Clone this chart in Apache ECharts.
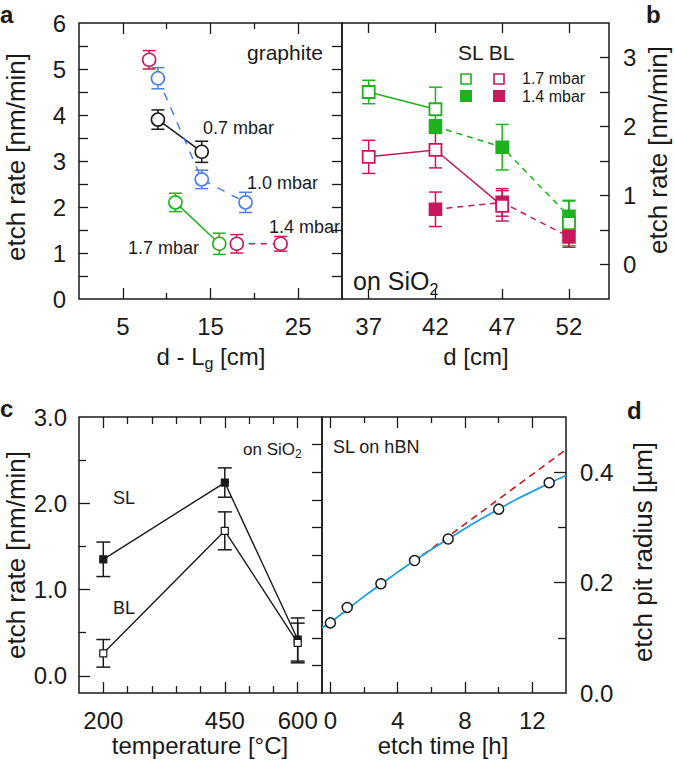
<!DOCTYPE html>
<html><head><meta charset="utf-8">
<script src="https://cdn.jsdelivr.net/npm/echarts@6/dist/echarts.min.js"></script>
<style>html,body{margin:0;padding:0;background:#fff}#c{width:675px;height:765px}</style>
</head><body><div id="c"></div>
<script>
// ---------- Panel a (graphite) ----------
const aXLabels = [5, 15, 25];
const aXMajorTicks = [5, 15, 25];
const aXMinorTicks = [10, 20];
const aYLabels = [0, 1, 2, 3, 4, 5, 6];
const aYTicks = [0.5, 1, 1.5, 2, 2.5, 3, 3.5, 4, 4.5, 5, 5.5];
const a07X = [9, 14],     a07Y = [3.9, 3.2],      a07E = [0.21, 0.23];
const a10X = [9, 14, 19], a10Y = [4.8, 2.6, 2.1], a10E = [0.23, 0.2, 0.22];
const a14X = [8, 18, 23], a14Y = [5.2, 1.2, 1.2], a14E = [0.2, 0.2, 0.16];
const a17X = [11, 16],    a17Y = [2.1, 1.2],      a17E = [0.2, 0.23];

// ---------- Panel b (on SiO2, vs d) ----------
const bXLabels = [37, 42, 47, 52];
const bYLabels = [0, 1, 2, 3];
const bYTicks = [0, 0.5, 1, 1.5, 2, 2.5, 3];
const bSL17X = [37, 42, 52], bSL17Y = [2.5, 2.25, 0.6],  bSL17E = [0.17, 0.32, 0.33];
const bSL14X = [42, 47, 52], bSL14Y = [2.0, 1.7, 0.7],   bSL14E = [0.1, 0.33, 0.22];
const bBL17X = [37, 42, 47], bBL17Y = [1.56, 1.66, 0.85], bBL17E = [0.24, 0.26, 0.22];
const bBL14X = [42, 47, 52], bBL14Y = [0.8, 0.9, 0.4],   bBL14E = [0.25, 0.2, 0.15];

// ---------- Panel c (temperature) ----------
const cXLabels = [200, 450, 600];
const cXMajorTicks = [200, 450, 600];
const cXMinorTicks = [250, 300, 350, 400, 500, 550];
const cYLabels = [0, 1, 2, 3];
const cYMajorTicks = [0, 1, 2];
const cYMinorTicks = [0.5, 1.5, 2.5];
const cTemp = [200, 450, 600];
const cSL = [1.35, 2.24, 0.42], cSLErr = [0.2, 0.17, 0.25];
const cBL = [0.26, 1.68, 0.38], cBLErr = [0.16, 0.22, 0.23];

// ---------- Panel d (etch pit radius) ----------
const dXLabels = [0, 4, 8, 12];
const dXMajorTicks = [0, 4, 8, 12];
const dXMinorTicks = [2, 6, 10];
const dYLabels = [0, 0.2, 0.4];
const dYMajorTicks = [0.2, 0.4];
const dYMinorTicks = [0.1, 0.3];
const dYLeftTicks = [0.05, 0.1, 0.15, 0.2, 0.25, 0.3, 0.35, 0.4, 0.45];
const dTime = [0, 1, 3, 5, 7, 10, 13];
const dRadius = [0.127, 0.155, 0.198, 0.240, 0.279, 0.333, 0.381];
const dFitTime = [-0.5, 0, 1, 2, 3, 4, 5, 6, 7, 8, 9, 10, 11, 12, 13, 14];
const dFitRadius = [0.118, 0.128, 0.151, 0.175, 0.197, 0.219, 0.240, 0.260, 0.279, 0.298, 0.316, 0.333, 0.350, 0.365, 0.380, 0.394];
const dLinTime = [5.5, 14];
const dLinRadius = [0.25, 0.441];

// ---------- styling ----------
const FONT = '"Liberation Sans", Arial, Helvetica, sans-serif';
const INK = '#1a1a1a';
const GREEN = '#1fb21f';
const CRIMSON = '#c8175d';
const BLUE = '#4d80e6';
const CYAN = '#1e9fe0';
const RED = '#c41a20';

const chart = echarts.init(document.getElementById('c'), null, {renderer: 'svg'});

const grids = [
  {left: 79, top: 23, width: 263, height: 276},
  {left: 342, top: 23, width: 267, height: 276},
  {left: 79, top: 417, width: 243, height: 276},
  {left: 322, top: 417, width: 244, height: 276}
].map(g => Object.assign({show: true, borderColor: INK, borderWidth: 1.5, backgroundColor: 'transparent', containLabel: false}, g));

const xAxes = [], yAxes = [];
function addAxis(list, o) {
  list.push({
    type: 'value', gridIndex: o.grid, position: o.pos, min: o.min, max: o.max,
    axisLine: {show: false, onZero: false},
    splitLine: {show: false},
    axisTick: {show: true, inside: o.inside !== false, length: o.len || 9, customValues: o.ticks,
      lineStyle: {color: INK, width: 1.3}},
    axisLabel: {show: !!o.labels, customValues: o.labels || [], margin: o.margin || 14,
      fontSize: 24, color: INK, fontFamily: FONT, formatter: o.fmt || (v => String(v))}
  });
  return list.length - 1;
}
// panel a
const xa = addAxis(xAxes, {grid: 0, pos: 'bottom', min: 0, max: 30, ticks: aXMajorTicks, len: 11, labels: aXLabels, margin: 15});
addAxis(xAxes, {grid: 0, pos: 'bottom', min: 0, max: 30, ticks: aXMinorTicks, len: 6});
addAxis(xAxes, {grid: 0, pos: 'top', min: 0, max: 30, ticks: aXMajorTicks, len: 11});
addAxis(xAxes, {grid: 0, pos: 'top', min: 0, max: 30, ticks: aXMinorTicks, len: 6});
const ya = addAxis(yAxes, {grid: 0, pos: 'left', min: 0, max: 6, ticks: aYTicks, len: 9, labels: aYLabels, margin: 13});
addAxis(yAxes, {grid: 0, pos: 'right', min: 0, max: 6, ticks: aYTicks, len: 10});
// panel b
const xb = addAxis(xAxes, {grid: 1, pos: 'bottom', min: 35, max: 55, ticks: bXLabels, len: 10, labels: bXLabels, margin: 15});
addAxis(xAxes, {grid: 1, pos: 'top', min: 35, max: 55, ticks: bXLabels, len: 10});
const yb = addAxis(yAxes, {grid: 1, pos: 'right', min: -0.5, max: 3.5, ticks: bYTicks, len: 9, labels: bYLabels, margin: 14});
// panel c
const xc = addAxis(xAxes, {grid: 2, pos: 'bottom', min: 150, max: 650, ticks: cXMajorTicks, len: 11, labels: cXLabels, margin: 15});
addAxis(xAxes, {grid: 2, pos: 'bottom', min: 150, max: 650, ticks: cXMinorTicks, len: 7});
addAxis(xAxes, {grid: 2, pos: 'top', min: 150, max: 650, ticks: cXMajorTicks, len: 11});
addAxis(xAxes, {grid: 2, pos: 'top', min: 150, max: 650, ticks: cXMinorTicks, len: 7});
const yc = addAxis(yAxes, {grid: 2, pos: 'left', min: -0.2, max: 3, ticks: cYMajorTicks, len: 11, labels: cYLabels, margin: 12, fmt: v => v.toFixed(1)});
addAxis(yAxes, {grid: 2, pos: 'left', min: -0.2, max: 3, ticks: cYMinorTicks, len: 7});
// panel d
const xd = addAxis(xAxes, {grid: 3, pos: 'bottom', min: -0.5, max: 14, ticks: dXMajorTicks, len: 11, labels: dXLabels, margin: 15});
addAxis(xAxes, {grid: 3, pos: 'bottom', min: -0.5, max: 14, ticks: dXMinorTicks, len: 6});
addAxis(xAxes, {grid: 3, pos: 'top', min: -0.5, max: 14, ticks: dXMajorTicks, len: 11});
addAxis(xAxes, {grid: 3, pos: 'top', min: -0.5, max: 14, ticks: dXMinorTicks, len: 6});
const yd = addAxis(yAxes, {grid: 3, pos: 'right', min: 0, max: 0.5, ticks: dYMajorTicks, len: 12, labels: dYLabels, margin: 14, fmt: v => v.toFixed(1)});
addAxis(yAxes, {grid: 3, pos: 'right', min: 0, max: 0.5, ticks: dYMinorTicks, len: 8});
addAxis(yAxes, {grid: 3, pos: 'left', min: 0, max: 0.5, ticks: dYLeftTicks, len: 10, inside: false});

const pts = (xs, ys) => xs.map((x, i) => [x, ys[i]]);

function errSeries(xs, ys, es, color, xi, yi, hw) {
  return {
    type: 'custom', xAxisIndex: xi, yAxisIndex: yi, silent: true, z: 3, clip: false,
    data: xs.map((x, i) => [x, ys[i], es[i]]), encode: {x: 0, y: 1},
    renderItem: (p, api) => {
      const x = api.value(0), y = api.value(1), e = api.value(2);
      const t = api.coord([x, y + e]), b = api.coord([x, y - e]);
      const st = () => ({stroke: color, lineWidth: 1.5});
      return {type: 'group', children: [
        {type: 'line', shape: {x1: t[0], y1: t[1], x2: b[0], y2: b[1]}, style: st()},
        {type: 'line', shape: {x1: t[0] - hw, y1: t[1], x2: t[0] + hw, y2: t[1]}, style: st()},
        {type: 'line', shape: {x1: b[0] - hw, y1: b[1], x2: b[0] + hw, y2: b[1]}, style: st()}
      ]};
    }
  };
}
function lineSeries(xs, ys, color, dash, xi, yi, width, smooth) {
  return {type: 'line', xAxisIndex: xi, yAxisIndex: yi, data: pts(xs, ys), symbol: 'none', silent: true, z: 2,
    smooth: !!smooth,
    lineStyle: {color: color, width: width || 1.5, type: dash || 'solid'}};
}
function markSeries(xs, ys, symbol, size, fill, stroke, xi, yi, bw) {
  return {type: 'scatter', xAxisIndex: xi, yAxisIndex: yi, data: pts(xs, ys), symbol: symbol, symbolSize: size,
    silent: true, z: 4, itemStyle: {color: fill, borderColor: stroke, borderWidth: bw || 1.6, opacity: 1}};
}

const series = [
  // panel a
  lineSeries(a07X, a07Y, INK, 'solid', xa, ya),
  lineSeries(a10X, a10Y, BLUE, [8, 8], xa, ya),
  lineSeries(a14X.slice(1), a14Y.slice(1), CRIMSON, [6, 6], xa, ya),
  lineSeries(a17X, a17Y, GREEN, 'solid', xa, ya),
  errSeries(a07X, a07Y, a07E, INK, xa, ya, 6.5),
  errSeries(a10X, a10Y, a10E, BLUE, xa, ya, 6.5),
  errSeries(a14X, a14Y, a14E, CRIMSON, xa, ya, 6.5),
  errSeries(a17X, a17Y, a17E, GREEN, xa, ya, 6.5),
  markSeries(a07X, a07Y, 'circle', 13, '#fff', INK, xa, ya),
  markSeries(a10X, a10Y, 'circle', 13, '#fff', BLUE, xa, ya),
  markSeries(a14X, a14Y, 'circle', 13, '#fff', CRIMSON, xa, ya),
  markSeries(a17X, a17Y, 'circle', 13, '#fff', GREEN, xa, ya),
  // panel b
  lineSeries(bSL17X.slice(0, 2), bSL17Y.slice(0, 2), GREEN, 'solid', xb, yb),
  lineSeries(bSL14X, bSL14Y, GREEN, [6, 5], xb, yb),
  lineSeries(bBL17X, bBL17Y, CRIMSON, 'solid', xb, yb),
  lineSeries(bBL14X, bBL14Y, CRIMSON, [6, 5], xb, yb),
  errSeries(bSL17X, bSL17Y, bSL17E, GREEN, xb, yb, 6.5),
  errSeries(bSL14X, bSL14Y, bSL14E, GREEN, xb, yb, 6.5),
  errSeries(bBL17X, bBL17Y, bBL17E, CRIMSON, xb, yb, 6.5),
  errSeries(bBL14X, bBL14Y, bBL14E, CRIMSON, xb, yb, 6.5),
  markSeries(bBL14X, bBL14Y, 'rect', 12, CRIMSON, CRIMSON, xb, yb),
  markSeries(bSL14X, bSL14Y, 'rect', 12, GREEN, GREEN, xb, yb),
  markSeries(bBL17X, bBL17Y, 'rect', 12, '#fff', CRIMSON, xb, yb, 1.8),
  markSeries(bSL17X, bSL17Y, 'rect', 12, '#fff', GREEN, xb, yb, 1.8),
  // panel c
  lineSeries(cTemp, cSL, INK, 'solid', xc, yc, 1.4),
  lineSeries(cTemp, cBL, INK, 'solid', xc, yc, 1.4),
  errSeries(cTemp, cSL, cSLErr, INK, xc, yc, 7),
  errSeries(cTemp, cBL, cBLErr, INK, xc, yc, 7),
  markSeries(cTemp, cSL, 'rect', 7, INK, INK, xc, yc, 1.2),
  markSeries(cTemp, cBL, 'rect', 7, '#fff', INK, xc, yc, 1.2),
  // panel d
  lineSeries(dLinTime, dLinRadius, RED, [7, 5], xd, yd, 1.6),
  lineSeries(dFitTime, dFitRadius, CYAN, 'solid', xd, yd, 1.8, true),
  markSeries(dTime, dRadius, 'circle', 10, '#fff', INK, xd, yd, 1.5)
];

const txt = (x, y, text, size, extra) => Object.assign({
  type: 'text', x: x, y: y, silent: true, z: 10,
  style: Object.assign({text: text, fontSize: size, fontFamily: FONT, fill: INK, align: 'left', verticalAlign: 'middle'}, (extra && extra.style) || {})
}, extra && extra.el || {});
const subRich = (big, small, lh) => ({
  n: {fontSize: big, fontFamily: FONT, fill: INK, lineHeight: lh, verticalAlign: 'middle'},
  s: {fontSize: small, fontFamily: FONT, fill: INK, lineHeight: lh, verticalAlign: 'bottom'}
});
const rot = Math.PI / 2;

const graphic = [
  // panel letters
  txt(0, 14, 'a', 24, {style: {fontWeight: 'bold'}}),
  txt(646, 14, 'b', 24, {style: {fontWeight: 'bold'}}),
  txt(0, 408, 'c', 24, {style: {fontWeight: 'bold'}}),
  txt(627, 410, 'd', 24, {style: {fontWeight: 'bold'}}),
  // axis titles
  txt(16, 157, 'etch rate [nm/min]', 26, {el: {rotation: rot}, style: {align: 'center'}}),
  txt(658, 150, 'etch rate [nm/min]', 26, {el: {rotation: rot}, style: {align: 'center'}}),
  txt(16, 555, 'etch rate [nm/min]', 26, {el: {rotation: rot}, style: {align: 'center'}}),
  txt(643, 552, 'etch pit radius [µm]', 26, {el: {rotation: rot}, style: {align: 'center'}}),
  txt(211, 356, '{n|d - L}{s|g}{n| [cm]}', 24, {style: {align: 'center', rich: subRich(24, 16, 30)}}),
  txt(476, 356, 'd [cm]', 24, {style: {align: 'center'}}),
  txt(200, 745, 'temperature [°C]', 24, {style: {align: 'center'}}),
  txt(443, 745, 'etch time [h]', 24, {style: {align: 'center'}}),
  // panel a annotations
  txt(247, 52, 'graphite', 21),
  txt(203, 128, '0.7 mbar', 18),
  txt(247, 183, '1.0 mbar', 18),
  txt(269, 227, '1.4 mbar', 18),
  txt(128, 248, '1.7 mbar', 18),
  // panel b legend + annotation
  txt(458, 52, 'SL BL', 21),
  txt(522, 78, '1.7 mbar', 16, {style: {lineHeight: 15}}),
  txt(522, 96, '1.4 mbar', 16, {style: {lineHeight: 15}}),
  txt(353, 281, '{n|on SiO}{s|2}', 25, {style: {rich: subRich(25, 16, 32)}}),
  // panel c annotations
  txt(243, 449, '{n|on SiO}{s|2}', 17, {style: {rich: subRich(17, 12, 22)}}),
  txt(113, 498, 'SL', 18),
  txt(113, 608, 'BL', 18),
  // panel d annotation
  txt(333, 447, 'SL on hBN', 18),
  // legend glyphs for panel b
  {type: 'rect', shape: {x: 461, y: 74, width: 10, height: 10}, style: {fill: '#fff', stroke: GREEN, lineWidth: 1.6}, silent: true},
  {type: 'rect', shape: {x: 494, y: 74, width: 10, height: 10}, style: {fill: '#fff', stroke: CRIMSON, lineWidth: 1.6}, silent: true},
  {type: 'rect', shape: {x: 460, y: 90, width: 12, height: 12}, style: {fill: GREEN}, silent: true},
  {type: 'rect', shape: {x: 493, y: 90, width: 12, height: 12}, style: {fill: CRIMSON}, silent: true}
];

chart.setOption({
  animation: false,
  backgroundColor: '#fff',
  grid: grids,
  xAxis: xAxes,
  yAxis: yAxes,
  series: series,
  graphic: graphic
});
</script>
</body></html>
